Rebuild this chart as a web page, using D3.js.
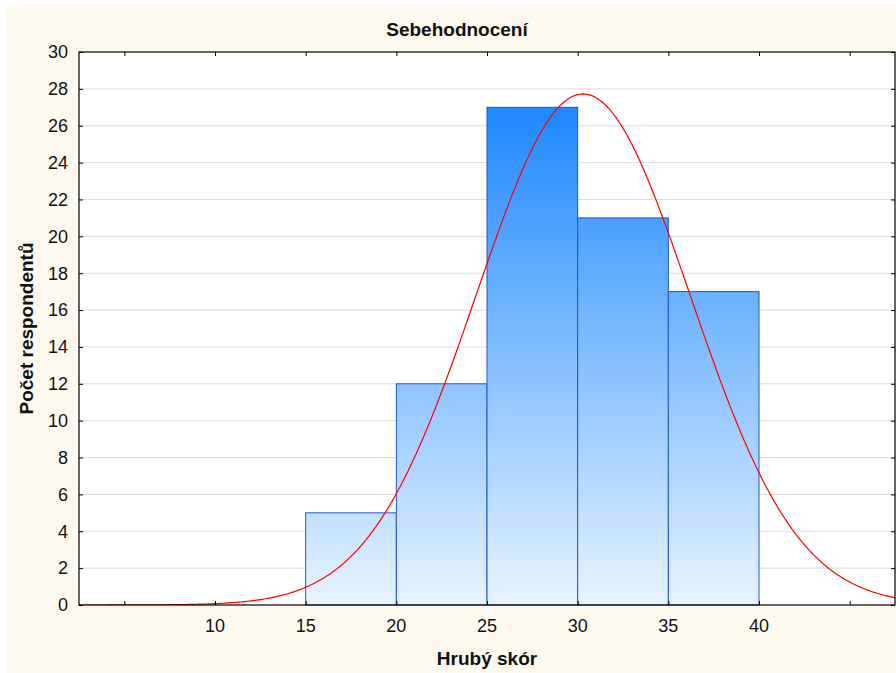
<!DOCTYPE html>
<html>
<head>
  <meta charset="utf-8">
  <script src="https://d3js.org/d3.v7.min.js"></script>
  <style>
    body { margin: 0; background: #ffffff; }
    text { font-family: "Liberation Sans", Arial, sans-serif; fill: #111; }
  </style>
</head>
<body>
<script>
  // histogram data
  var binStarts = [15, 20, 25, 30, 35];
  var binWidth = 5;
  var counts = [5, 12, 27, 21, 17];
  var xTickValues = [5, 10, 15, 20, 25, 30, 35, 40, 45];
  var xTickLabels = ["", "10", "15", "20", "25", "30", "35", "40", ""];
  var yTickValues = [0, 2, 4, 6, 8, 10, 12, 14, 16, 18, 20, 22, 24, 26, 28, 30];
  // fitted normal curve (parameters estimated from the plot)
  var fitMean = 30.3, fitSd = 5.9;

  var W = 896, H = 673;
  var plot = { left: 79, top: 52, right: 895, bottom: 605 };

  var svg = d3.select("body").append("svg")
    .attr("width", W).attr("height", H);

  svg.append("rect")
    .attr("x", 6).attr("y", 5)
    .attr("width", W - 6).attr("height", H - 5)
    .attr("fill", "#fdf9ef");

  var x = d3.scaleLinear().domain([2.5, 47.5]).range([plot.left, plot.right]);
  var y = d3.scaleLinear().domain([0, 30]).range([plot.bottom, plot.top]);

  var defs = svg.append("defs");
  var grad = defs.append("linearGradient")
    .attr("id", "barGrad")
    .attr("gradientUnits", "userSpaceOnUse")
    .attr("x1", 0).attr("x2", 0)
    .attr("y1", y(d3.max(counts))).attr("y2", y(0));
  grad.append("stop").attr("offset", 0).attr("stop-color", "#1e88ff");
  grad.append("stop").attr("offset", 1).attr("stop-color", "#e8f4ff");

  defs.append("clipPath").attr("id", "plotClip")
    .append("rect")
      .attr("x", plot.left).attr("y", plot.top)
      .attr("width", plot.right - plot.left).attr("height", plot.bottom - plot.top);

  // plot background
  svg.append("rect")
    .attr("x", plot.left).attr("y", plot.top)
    .attr("width", plot.right - plot.left).attr("height", plot.bottom - plot.top)
    .attr("fill", "#ffffff");

  // horizontal grid
  svg.append("g")
    .selectAll("line")
    .data(yTickValues.filter(function (d) { return d > 0 && d < 30; }))
    .join("line")
      .attr("x1", plot.left).attr("x2", plot.right)
      .attr("y1", function (d) { return y(d); })
      .attr("y2", function (d) { return y(d); })
      .attr("stroke", "#dcdcdc")
      .attr("stroke-width", 1);

  // bars
  svg.append("g")
    .selectAll("rect")
    .data(counts)
    .join("rect")
      .attr("x", function (d, i) { return x(binStarts[i]); })
      .attr("y", function (d) { return y(d); })
      .attr("width", function (d, i) { return x(binStarts[i] + binWidth) - x(binStarts[i]); })
      .attr("height", function (d) { return y(0) - y(d); })
      .attr("fill", "url(#barGrad)")
      .attr("stroke", "#1f55cc")
      .attr("stroke-width", 1);

  // normal curve, scaled to counts
  var total = d3.sum(counts);
  var curveX = d3.range(2.5, 47.6, 0.1);
  var line = d3.line()
    .x(function (d) { return x(d); })
    .y(function (d) {
      var z = (d - fitMean) / fitSd;
      return y(total * binWidth * Math.exp(-0.5 * z * z) / (fitSd * Math.sqrt(2 * Math.PI)));
    });
  svg.append("path")
    .datum(curveX)
    .attr("clip-path", "url(#plotClip)")
    .attr("d", line)
    .attr("fill", "none")
    .attr("stroke", "#ff0000")
    .attr("stroke-width", 1.2);

  // frame
  svg.append("rect")
    .attr("x", plot.left).attr("y", plot.top)
    .attr("width", plot.right - plot.left).attr("height", plot.bottom - plot.top)
    .attr("fill", "none")
    .attr("stroke", "#000")
    .attr("stroke-width", 1.2);

  // axes with inward ticks
  var fmtX = function (d) { return xTickLabels[xTickValues.indexOf(d)]; };
  svg.append("g")
    .attr("transform", "translate(0," + plot.bottom + ")")
    .call(d3.axisTop(x).tickValues(xTickValues).tickFormat("").tickSizeInner(4).tickSizeOuter(0))
    .call(function (g) { g.select(".domain").remove(); });
  svg.append("g")
    .attr("transform", "translate(0," + plot.top + ")")
    .call(d3.axisBottom(x).tickValues(xTickValues).tickFormat("").tickSizeInner(4).tickSizeOuter(0))
    .call(function (g) { g.select(".domain").remove(); });
  svg.append("g")
    .attr("transform", "translate(" + plot.left + ",0)")
    .call(d3.axisRight(y).tickValues(yTickValues).tickFormat("").tickSizeInner(4).tickSizeOuter(0))
    .call(function (g) { g.select(".domain").remove(); });
  svg.append("g")
    .attr("transform", "translate(" + plot.right + ",0)")
    .call(d3.axisLeft(y).tickValues(yTickValues).tickFormat("").tickSizeInner(4).tickSizeOuter(0))
    .call(function (g) { g.select(".domain").remove(); });

  // tick labels
  svg.append("g")
    .selectAll("text")
    .data(yTickValues)
    .join("text")
      .attr("x", plot.left - 11)
      .attr("y", function (d) { return y(d); })
      .attr("dy", "0.35em")
      .attr("text-anchor", "end")
      .style("font-size", "18px")
      .text(function (d) { return d; });

  svg.append("g")
    .selectAll("text")
    .data(xTickValues)
    .join("text")
      .attr("x", function (d) { return x(d); })
      .attr("y", plot.bottom + 27)
      .attr("text-anchor", "middle")
      .style("font-size", "18px")
      .text(fmtX);

  // titles
  svg.append("text")
    .attr("x", 457).attr("y", 36)
    .attr("text-anchor", "middle")
    .style("font-size", "19px").style("font-weight", "bold")
    .text("Sebehodnocení");

  svg.append("text")
    .attr("x", (plot.left + plot.right) / 2).attr("y", 665)
    .attr("text-anchor", "middle")
    .style("font-size", "19px").style("font-weight", "bold")
    .text("Hrubý skór");

  svg.append("text")
    .attr("transform", "translate(33," + (plot.top + plot.bottom) / 2 + ") rotate(-90)")
    .attr("text-anchor", "middle")
    .style("font-size", "19px").style("font-weight", "bold")
    .text("Počet respondentů");
</script>
</body>
</html>
